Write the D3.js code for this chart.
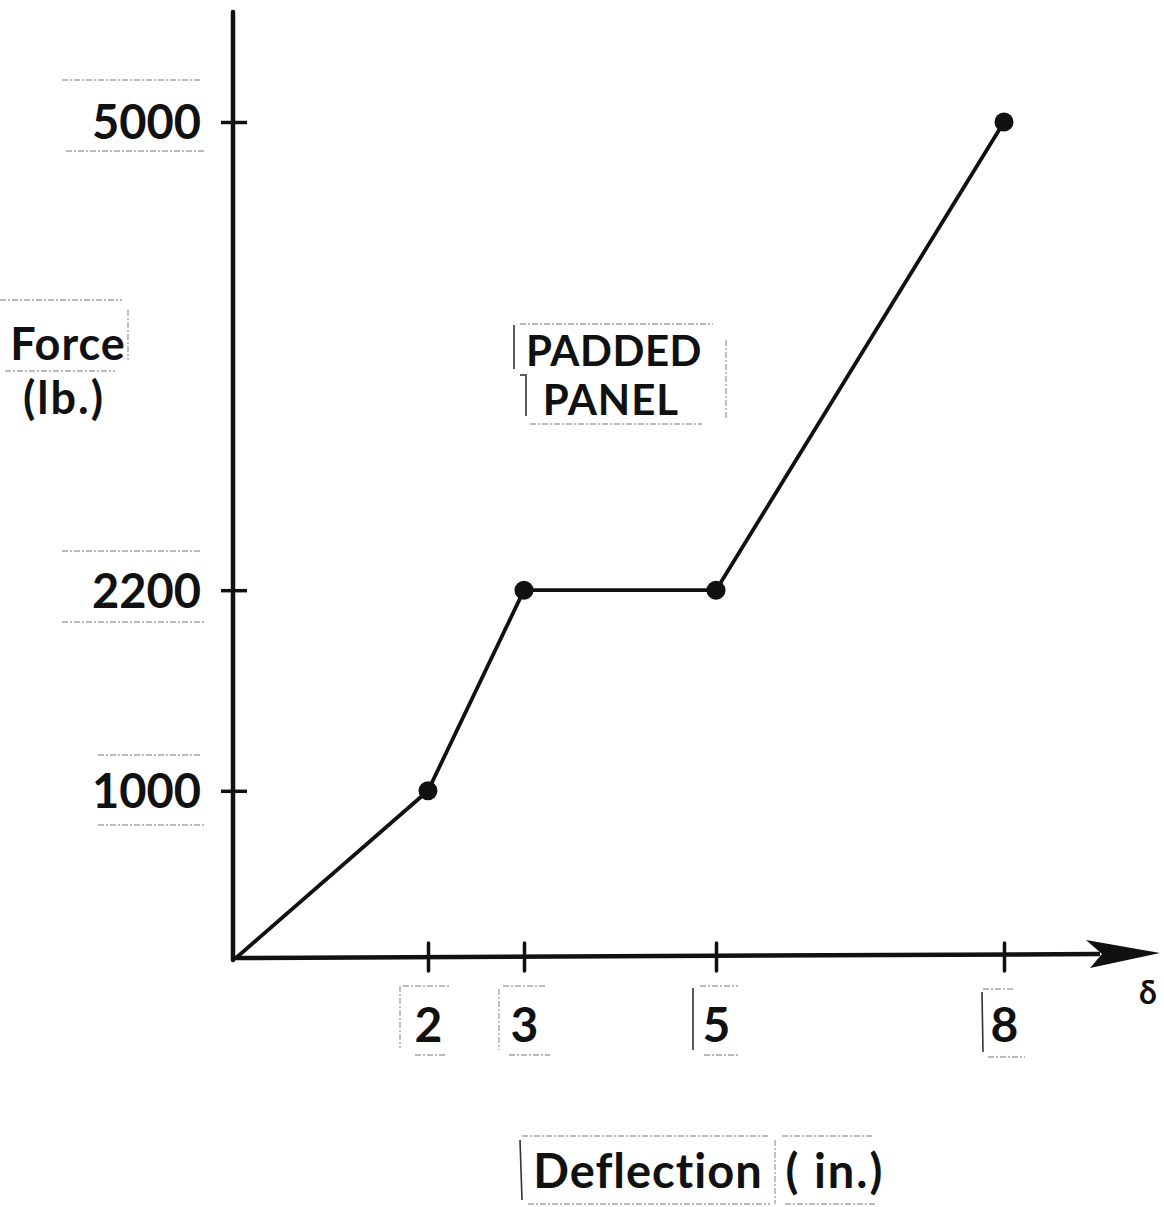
<!DOCTYPE html>
<html>
<head>
<meta charset="utf-8">
<script src="https://cdn.jsdelivr.net/npm/d3@7"></script>
<style>
  html, body { margin: 0; padding: 0; background: #fff; }
  svg { display: block; }
  text { font-family: "Lato", "Open Sans", sans-serif; font-weight: 700; fill: #111; }
</style>
</head>
<body>
<svg id="chart" width="1164" height="1207"></svg>
<script>
// Force–deflection curve for a padded panel
const deflection = [0, 2, 3, 5, 8];          // in.
const force      = [0, 1000, 2200, 2200, 5000]; // lb.
const markedPoints = [1, 2, 3, 4];             // indices drawn with a dot
const xTickValues = [2, 3, 5, 8];
const yTickValues = [1000, 2200, 5000];

const svg = d3.select("#chart");
const ink = "#111";

const x = d3.scaleLinear().domain([0, 8]).range([236, 1004]);
const y = d3.scaleLinear().domain([0, 5000]).range([958, 122]);

// faint paste-up box edges around the lettering
const ghost = svg.append("g")
  .attr("stroke", "#888").attr("stroke-width", 1.4)
  .attr("stroke-dasharray", "6 2 2 2").attr("fill", "none").attr("opacity", 0.75);
function ghostH(x1, x2, yy) { ghost.append("line").attr("x1", x1).attr("x2", x2).attr("y1", yy).attr("y2", yy); }
function ghostV(xx, y1, y2) { ghost.append("line").attr("x1", xx).attr("x2", xx).attr("y1", y1).attr("y2", y2); }

// y axis
const yAxis = d3.axisLeft(y).tickValues(yTickValues).tickSize(0).tickPadding(32)
  .tickFormat(d3.format("d"));
const gy = svg.append("g").attr("transform", `translate(${x(0) - 3},0)`).call(yAxis);
gy.select(".domain").remove();
gy.selectAll(".tick line").attr("x1", -12).attr("x2", 14).attr("stroke", ink).attr("stroke-width", 3.5);
gy.selectAll(".tick text").attr("font-size", 47).attr("dy", "0.36em")
  .attr("font-family", "Lato, sans-serif").attr("font-weight", 700).attr("fill", ink);
svg.append("line").attr("x1", x(0) - 3).attr("x2", x(0) - 3).attr("y1", 12).attr("y2", y(0) + 2)
  .attr("stroke", ink).attr("stroke-width", 4.5).attr("stroke-linecap", "round");

// x axis
const xAxis = d3.axisBottom(x).tickValues(xTickValues).tickSize(0).tickPadding(50)
  .tickFormat(d3.format("d"));
const gx = svg.append("g").attr("transform", `translate(0,${y(0)})`).call(xAxis);
gx.select(".domain").remove();
gx.selectAll(".tick line").attr("y1", -15).attr("y2", 13).attr("stroke", ink).attr("stroke-width", 3.5)
  .attr("stroke-linecap", "round");
gx.selectAll(".tick text").attr("font-size", 48).attr("dy", "0.71em")
  .attr("font-family", "Lato, sans-serif").attr("font-weight", 700).attr("fill", ink);
svg.append("line").attr("x1", x(0) - 4).attr("x2", 1100).attr("y1", y(0)).attr("y2", y(0) - 4)
  .attr("stroke", ink).attr("stroke-width", 4.5);
// notched arrow head
svg.append("path")
  .attr("d", `M1086,${y(0) - 18} L1160,${y(0) - 5} L1090,${y(0) + 10} L1102,${y(0) - 4} Z`)
  .attr("fill", ink);
svg.append("text").attr("x", 1148).attr("y", 1004).attr("text-anchor", "middle")
  .attr("font-size", 32).text("δ");

// curve
const pts = deflection.map((d, i) => [d, force[i]]);
svg.append("path").datum(pts)
  .attr("d", d3.line().x(d => x(d[0])).y(d => y(d[1])))
  .attr("fill", "none").attr("stroke", ink).attr("stroke-width", 3.8).attr("stroke-linejoin", "round");
svg.append("g").selectAll("circle").data(markedPoints.map(i => pts[i])).join("circle")
  .attr("cx", d => x(d[0])).attr("cy", d => y(d[1])).attr("r", 9.5).attr("fill", ink);

// axis titles
svg.append("text").attr("x", 68).attr("y", 360).attr("text-anchor", "middle")
  .attr("font-size", 45).attr("letter-spacing", 1).text("Force");
svg.append("text").attr("x", 64).attr("y", 414).attr("text-anchor", "middle")
  .attr("font-size", 45).attr("letter-spacing", 2).text("(lb.)");

svg.append("text").attr("x", 648).attr("y", 1188).attr("text-anchor", "middle")
  .attr("font-size", 47).attr("letter-spacing", 1).text("Deflection");
svg.append("text").attr("x", 835).attr("y", 1188).attr("text-anchor", "middle")
  .attr("font-size", 47).attr("letter-spacing", 2).text("( in.)");

// panel label
svg.append("text").attr("x", 614).attr("y", 366).attr("text-anchor", "middle")
  .attr("font-size", 42).attr("letter-spacing", 0.5).text("PADDED");
svg.append("text").attr("x", 611).attr("y", 415).attr("text-anchor", "middle")
  .attr("font-size", 42).attr("letter-spacing", 1).text("PANEL");

// paste-up box edges
ghostH(62, 200, 80); ghostH(66, 205, 151);
ghostH(62, 200, 551); ghostH(62, 205, 622);
ghostH(98, 200, 755); ghostH(98, 205, 825);
ghostH(0, 122, 300); ghostV(128, 310, 360); ghostH(5, 115, 371);
ghostH(403, 450, 986); ghostH(415, 447, 1055); ghostV(400, 986, 1048);
ghostH(503, 545, 986); ghostH(509, 550, 1055); ghostV(499, 989, 1050);
ghostH(700, 738, 986); ghostH(704, 740, 1055);
ghostH(983, 1013, 989); ghostH(988, 1025, 1057);
ghostH(520, 713, 324); ghostH(530, 702, 424); ghostV(726, 340, 420);
ghostH(522, 770, 1136); ghostH(528, 770, 1204); ghostV(775, 1140, 1204);
ghostH(782, 873, 1136); ghostH(785, 875, 1204);

// solid bracket strokes from the paste-up
const br = svg.append("g").attr("stroke", "#333").attr("stroke-width", 1.6);
br.append("line").attr("x1", 514).attr("x2", 514).attr("y1", 325).attr("y2", 369);
br.append("line").attr("x1", 526).attr("x2", 526).attr("y1", 376).attr("y2", 416);
br.append("line").attr("x1", 520).attr("x2", 527).attr("y1", 375).attr("y2", 375);
br.append("line").attr("x1", 520).attr("x2", 522).attr("y1", 1140).attr("y2", 1200);
br.append("line").attr("x1", 982).attr("x2", 983).attr("y1", 992).attr("y2", 1052);
br.append("line").attr("x1", 693).attr("x2", 693).attr("y1", 988).attr("y2", 1050);
</script>
</body>
</html>
